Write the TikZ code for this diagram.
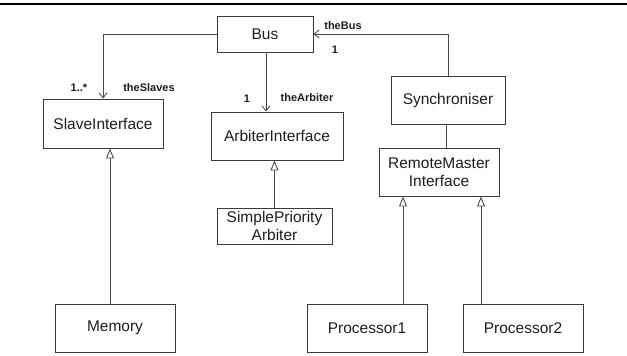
\documentclass[tikz,border=0pt]{standalone}
\usepackage{fontspec}
\setmainfont{Liberation Sans}
\usetikzlibrary{arrows.meta}
\definecolor{ln}{HTML}{4A4A4A}
\definecolor{bx}{HTML}{3A3A3A}
\definecolor{tx}{HTML}{1E1E1E}
\tikzset{
  cls/.style={draw=bx, line width=0.9pt, fill=white, inner sep=0pt, text=tx,
    font=\fontsize{15.5}{19}\selectfont, align=center},
  assoc/.style={draw=ln, line width=0.9pt, -{Straight Barb[length=5pt,width=8pt,line width=0.9pt]}},
  gen/.style={draw=ln, line width=0.9pt, -{Triangle[open,length=10pt,width=8pt,fill=white,line width=0.9pt]}},
  plain/.style={draw=ln, line width=0.9pt},
  lbl/.style={inner sep=0pt, text=tx, font=\fontsize{11}{13}\selectfont\bfseries}
}
\begin{document}
\begin{tikzpicture}[x=1pt,y=-1pt]
\useasboundingbox (0,0) rectangle (627,356);
\draw[line width=1.5pt, black] (0,4) -- (627,4);

\node[cls, minimum width=96pt, minimum height=36pt] (bus) at (265,34) {Bus};
\node[cls, minimum width=120pt, minimum height=49pt] (slave) at (103,123.5) {SlaveInterface};
\node[cls, minimum width=132pt, minimum height=48pt] (arb) at (277,136) {ArbiterInterface};
\node[cls, minimum width=114pt, minimum height=48pt] (sync) at (448,100) {Synchroniser};
\node[cls, minimum width=120pt, minimum height=48pt] (rmi) at (439,172) {RemoteMaster\\[-0.5pt]Interface};
\node[cls, minimum width=115pt, minimum height=36pt, font=\fontsize{15.5}{18}\selectfont] (spa) at (274.5,226) {SimplePriority\\Arbiter};
\node[cls, minimum width=120pt, minimum height=48pt] (mem) at (115,328) {Memory};
\node[cls, minimum width=120pt, minimum height=48pt] (p1) at (367,328) {Processor1};
\node[cls, minimum width=120pt, minimum height=48pt] (p2) at (523,328) {Processor2};

% associations
\draw[assoc] (bus.west) -| (slave.north);
\coordinate (busS) at ([xshift=1pt]bus.south);
\draw[assoc] (busS) -- (busS |- arb.north);
\draw[assoc] (sync.north) |- (bus.east);
\coordinate (syncS) at ([xshift=-2pt]sync.south);
\draw[plain] (syncS) -- (syncS |- rmi.north);

% generalizations
\coordinate (spaN) at (spa.north);
\draw[gen] (spaN) -- (spaN |- arb.south);
\coordinate (memN) at ([xshift=-5pt]mem.north);
\draw[gen] (memN) -- (memN |- slave.south);
\coordinate (p1N) at ([xshift=36pt]p1.north);
\draw[gen] (p1N) -- (p1N |- rmi.south);
\coordinate (p2N) at ([xshift=-42pt]p2.north);
\draw[gen] (p2N) -- (p2N |- rmi.south);

% labels
\node[lbl] (l1) at (79,88) {1..*};
\node[lbl] (l2) at (149,88) {theSlaves};
\node[lbl] (l3) at (247,99) {1};
\node[lbl] (l4) at (307,98) {theArbiter};
\node[lbl] (l5) at (343,26) {theBus};
\node[lbl] (l6) at (335,50) {1};
\end{tikzpicture}
\end{document}
